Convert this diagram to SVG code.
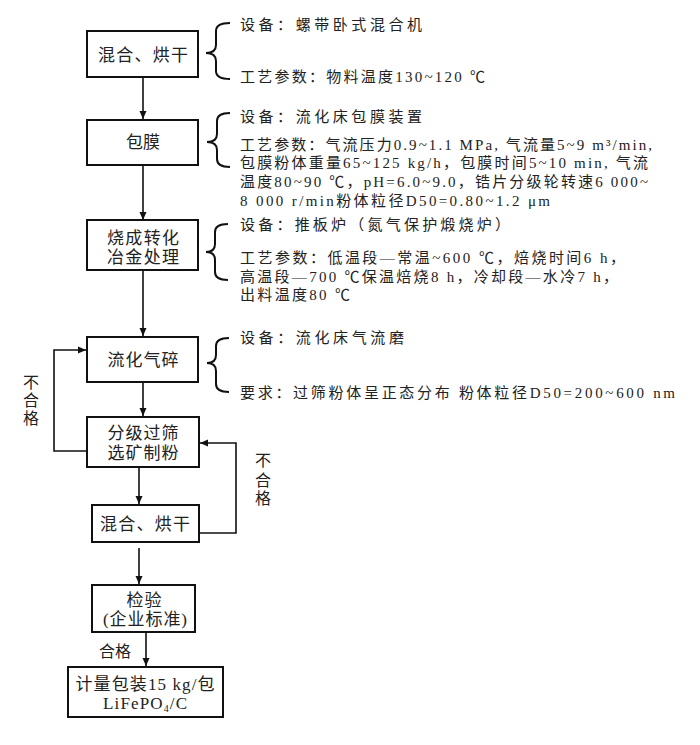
<svg xmlns="http://www.w3.org/2000/svg" width="700" height="745" viewBox="0 0 700 745">
<style>
  .box { fill: #fff; stroke: #111; stroke-width: 2; }
  .bt { font-family: 'Liberation Serif', 'Noto Sans CJK SC', serif; font-size: 17px; fill: #222; text-anchor: middle; }
  .st { font-family: 'Liberation Serif', 'Noto Sans CJK SC', serif; font-size: 15px; fill: #222; }
  .lb { font-family: 'Liberation Serif', 'Noto Sans CJK SC', serif; font-size: 16px; fill: #222; text-anchor: middle; }
  .brace { fill: none; stroke: #111; stroke-width: 2; }
  .conn { fill: none; stroke: #111; stroke-width: 1.6; }
</style>
<defs>
  <marker id="arr" markerWidth="8" markerHeight="8" refX="8" refY="4" orient="auto" markerUnits="userSpaceOnUse">
    <path d="M0,0.5 L8,4 L0,7.5 Z" fill="#111"/>
  </marker>
</defs>

<g id="connectors">
  <line class="conn" x1="143" y1="78" x2="143" y2="119" marker-end="url(#arr)"/>
  <line class="conn" x1="143" y1="165" x2="143" y2="220" marker-end="url(#arr)"/>
  <line class="conn" x1="143" y1="270" x2="143" y2="336" marker-end="url(#arr)"/>
  <line class="conn" x1="143" y1="382" x2="143" y2="416" marker-end="url(#arr)"/>
  <line class="conn" x1="139" y1="467" x2="139" y2="504" marker-end="url(#arr)"/>
  <line class="conn" x1="139" y1="548" x2="139" y2="584" marker-end="url(#arr)"/>
  <line class="conn" x1="146" y1="632" x2="146" y2="666" marker-end="url(#arr)"/>
  <polyline class="conn" points="87,451 54,451 54,350 86,350" marker-end="url(#arr)"/>
  <polyline class="conn" points="199,533 236,533 236,443 200,443" marker-end="url(#arr)"/>
  <text class="lb" x="31" y="388">不</text>
  <text class="lb" x="31" y="406">合</text>
  <text class="lb" x="31" y="424">格</text>
  <text class="lb" x="263" y="466">不</text>
  <text class="lb" x="263" y="486">合</text>
  <text class="lb" x="263" y="504">格</text>
  <text class="lb" x="115" y="657" font-size="15">合格</text>
</g>

<g id="n1">
  <rect class="box" x="87" y="31" width="111" height="46"/>
  <text class="bt" x="143" y="61" textLength="90" lengthAdjust="spacing">混合、烘干</text>
  <path class="brace" d="M230,23 Q216,23 216,31 L216,45 Q216,53 206,53 Q216,53 216,61 L216,71 Q216,79 230,79"/>
  <text class="st" x="240" y="30" textLength="182" lengthAdjust="spacing">设备：螺带卧式混合机</text>
  <text class="st" x="240" y="82" textLength="245" lengthAdjust="spacing">工艺参数：物料温度130~120 ℃</text>
</g>

<g id="n2">
  <rect class="box" x="87" y="120" width="111" height="45"/>
  <text class="bt" x="143" y="148" textLength="34" lengthAdjust="spacing">包膜</text>
  <path class="brace" d="M230,113 Q217,113 217,121 L217,134 Q217,142 207,142 Q217,142 217,150 L217,159 Q217,167 230,167"/>
  <text class="st" x="240" y="122" textLength="182" lengthAdjust="spacing">设备：流化床包膜装置</text>
  <text class="st" x="240" y="150" textLength="412" lengthAdjust="spacing">工艺参数：气流压力0.9~1.1 MPa, 气流量5~9 m³/min,</text>
  <text class="st" x="240" y="168" textLength="408" lengthAdjust="spacing">包膜粉体重量65~125 kg/h，包膜时间5~10 min, 气流</text>
  <text class="st" x="240" y="187" textLength="408" lengthAdjust="spacing">温度80~90 ℃，pH=6.0~9.0，锆片分级轮转速6 000~</text>
  <text class="st" x="240" y="206" textLength="310" lengthAdjust="spacing">8 000 r/min粉体粒径D50=0.80~1.2 μm</text>
</g>

<g id="n3">
  <rect class="box" x="87" y="220" width="111" height="50"/>
  <text class="bt" x="143" y="244" textLength="72" lengthAdjust="spacing">烧成转化</text>
  <text class="bt" x="143" y="263" textLength="72" lengthAdjust="spacing">冶金处理</text>
  <path class="brace" d="M228,224 Q215,224 215,232 L215,244 Q215,252 206,252 Q215,252 215,260 L215,272 Q215,280 228,280"/>
  <text class="st" x="240" y="230" textLength="270" lengthAdjust="spacing">设备：推板炉（氮气保护煅烧炉）</text>
  <text class="st" x="240" y="263" textLength="385" lengthAdjust="spacing">工艺参数：低温段—常温~600 ℃，焙烧时间6 h，</text>
  <text class="st" x="240" y="282" textLength="378" lengthAdjust="spacing">高温段—700 ℃保温焙烧8 h，冷却段—水冷7 h，</text>
  <text class="st" x="240" y="300" textLength="110" lengthAdjust="spacing">出料温度80 ℃</text>
</g>

<g id="n4">
  <rect class="box" x="87" y="337" width="111" height="45"/>
  <text class="bt" x="143" y="366" textLength="71" lengthAdjust="spacing">流化气碎</text>
  <path class="brace" d="M229,338 Q216,338 216,346 L216,355 Q216,363 207,363 Q216,363 216,371 L216,384 Q216,392 229,392"/>
  <text class="st" x="240" y="343" textLength="164" lengthAdjust="spacing">设备：流化床气流磨</text>
  <text class="st" x="240" y="398" textLength="435" lengthAdjust="spacing">要求：过筛粉体呈正态分布 粉体粒径D50=200~600 nm</text>
</g>

<g id="n5">
  <rect class="box" x="87" y="417" width="112" height="50"/>
  <text class="bt" x="143" y="439" textLength="71" lengthAdjust="spacing">分级过筛</text>
  <text class="bt" x="143" y="459" textLength="71" lengthAdjust="spacing">选矿制粉</text>
</g>

<g id="n6">
  <rect class="box" x="92" y="505" width="107" height="37"/>
  <text class="bt" x="145" y="530" textLength="90" lengthAdjust="spacing">混合、烘干</text>
</g>

<g id="n7">
  <rect class="box" x="92" y="585" width="103" height="47"/>
  <text class="bt" x="144" y="606" textLength="35" lengthAdjust="spacing">检验</text>
  <text class="bt" x="145" y="625" textLength="84" lengthAdjust="spacing">(企业标准)</text>
</g>

<g id="n8">
  <rect class="box" x="68" y="667" width="155" height="50"/>
  <text class="bt" x="145" y="690" textLength="139" lengthAdjust="spacing">计量包装15 kg/包</text>
  <text class="bt" x="145" y="709" textLength="84" lengthAdjust="spacing">LiFePO<tspan font-size="10" dy="3">4</tspan><tspan dy="-3">/C</tspan></text>
</g>
</svg>
